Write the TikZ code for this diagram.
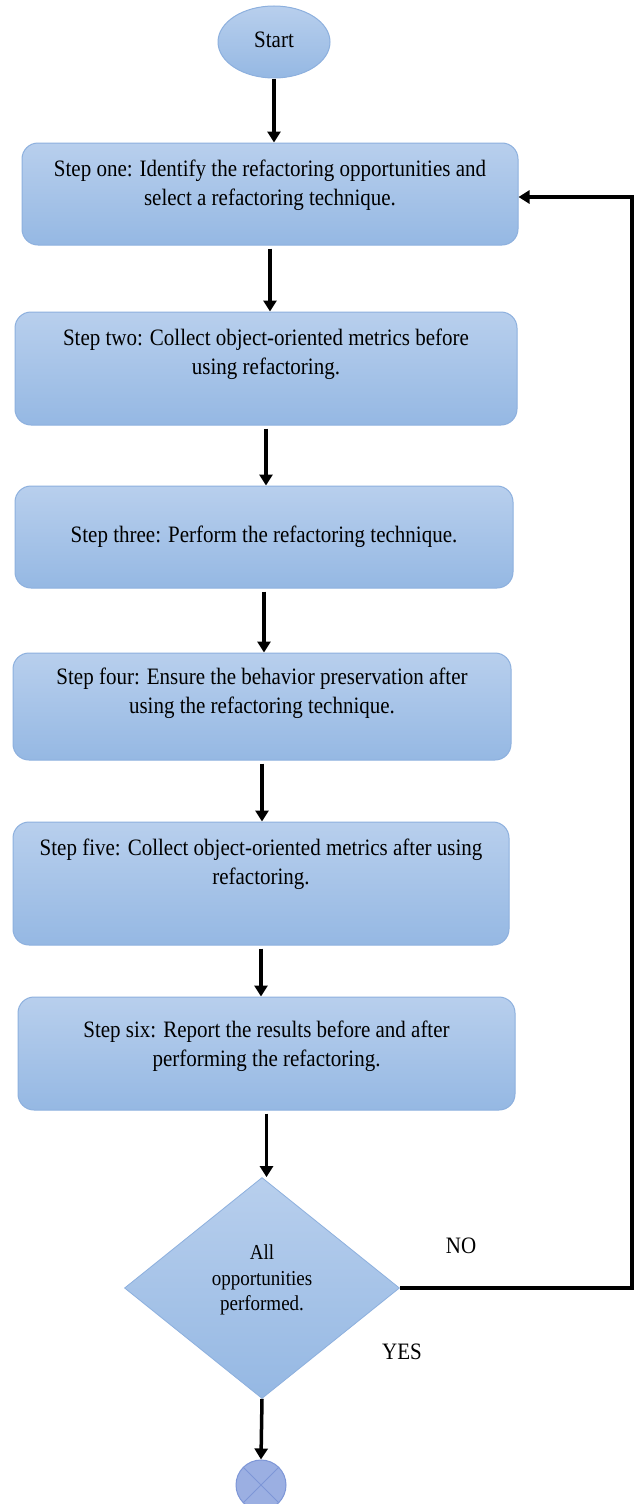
\documentclass[tikz,border=0pt]{standalone}
\usepackage{fontspec}
\usepackage{graphicx}
\setmainfont{Liberation Serif}
\usetikzlibrary{shapes.geometric,arrows.meta}
\definecolor{boxtop}{RGB}{184,207,237}
\definecolor{boxbot}{RGB}{149,184,227}
\definecolor{boxline}{RGB}{141,176,222}
\definecolor{endfill}{RGB}{155,175,226}
\definecolor{endline}{RGB}{125,150,215}
\newcommand{\talltext}[1]{\scalebox{1}[1.12]{\begin{tabular}{@{}c@{}}#1\end{tabular}}}
\tikzset{
  stepbox/.style={draw=boxline, line width=1pt, rounded corners=16pt, top color=boxtop, bottom color=boxbot, inner sep=0pt},
  steptext/.style={font=\fontsize{21}{26}\selectfont, align=center, inner sep=0pt},
  smalltext/.style={font=\fontsize{19}{22.5}\selectfont, align=center, inner sep=0pt},
  arr/.style={line width=3.5pt, -{Triangle[length=11pt,width=13pt]}},
}
\begin{document}
\begin{tikzpicture}[x=1pt,y=-1pt]
\useasboundingbox (0,0) rectangle (638,1504);
\fill[white] (0,0) rectangle (638,1504);

\node[ellipse, draw=boxline, line width=1pt, top color=boxtop, bottom color=boxbot, minimum width=112pt, minimum height=72pt, inner sep=0pt] (start) at (274,42) {};
\node[steptext] (tstart) at (274,42) {\talltext{Start}};

\node[stepbox, minimum width=496pt, minimum height=102pt] (b1) at (270,194) {};
\node[steptext] (t1) at (270,185) {\talltext{Step one: Identify the refactoring opportunities and\\select a refactoring technique.}};

\node[stepbox, minimum width=502pt, minimum height=113pt] (b2) at (266,368.5) {};
\node[steptext] (t2) at (266,354) {\talltext{Step two: Collect object-oriented metrics before\\using refactoring.}};

\node[stepbox, minimum width=498pt, minimum height=102pt] (b3) at (264,537) {};
\node[steptext] (t3) at (264,537) {\talltext{Step three: Perform the refactoring technique.}};

\node[stepbox, minimum width=498pt, minimum height=107pt] (b4) at (262,706.5) {};
\node[steptext] (t4) at (262,693) {\talltext{Step four: Ensure the behavior preservation after\\using the refactoring technique.}};

\node[stepbox, minimum width=496pt, minimum height=123pt] (b5) at (261,883.5) {};
\node[steptext] (t5) at (261,864) {\talltext{Step five: Collect object-oriented metrics after using\\refactoring.}};

\node[stepbox, minimum width=497pt, minimum height=113pt] (b6) at (266.5,1053.5) {};
\node[steptext] (t6) at (266.5,1046) {\talltext{Step six: Report the results before and after\\performing the refactoring.}};

\node[diamond, draw=boxline, line width=0.8pt, top color=boxtop, bottom color=boxbot, minimum width=275pt, minimum height=221pt, inner sep=0pt] (dia) at (262,1288) {};
\node[smalltext] (tdia) at (262,1280) {\talltext{All\\opportunities\\performed.}};

\node[steptext] (no) at (461,1248) {\talltext{NO}};
\node[steptext] (yes) at (402,1354) {\talltext{YES}};

\node[circle, draw=endline, fill=endfill, minimum size=50pt, inner sep=0pt, line width=1pt] (end) at (261,1485) {};
\draw[endline, line width=1pt] (end.north east) -- (end.south west) (end.north west) -- (end.south east);

\draw[arr] (start.south) -- (start.south |- b1.north);
\draw[arr] ([yshift=-3pt]b1.south) -- (b1.south |- b2.north);
\draw[arr] ([yshift=-3pt]b2.south) -- (b2.south |- b3.north);
\draw[arr] ([yshift=-3pt]b3.south) -- (b3.south |- b4.north);
\draw[arr] ([yshift=-3pt]b4.south) -- (b4.south |- b5.north);
\draw[arr] ([yshift=-3pt]b5.south) -- (b5.south |- b6.north);
\draw[arr] ([yshift=-3pt]b6.south) -- (b6.south |- dia.north);
\draw[arr] (dia.south) -- (end.north);

\coordinate (c1) at (632,1288);
\draw[arr] (dia.east) -- (c1) |- ([yshift=-3pt]b1.east);
\end{tikzpicture}
\end{document}
